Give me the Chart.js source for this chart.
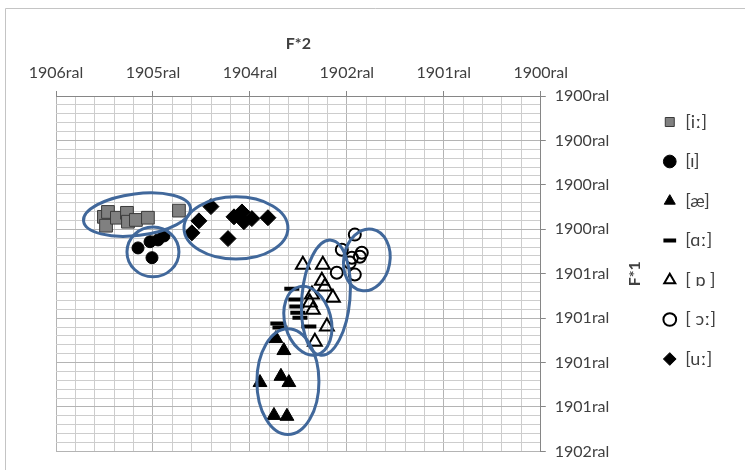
<!DOCTYPE html>
<html>
<head>
<meta charset="utf-8">
<script src="https://cdn.jsdelivr.net/npm/chart.js@4.4.1/dist/chart.umd.min.js"></script>
<style>
  body { margin: 0; background: #fff; }
  #wrap { width: 745px; height: 470px; }
</style>
</head>
<body>
<div id="wrap"><canvas id="formants"></canvas></div>
<script>
// axis ticks (the source sheet had its numbers formatted as dates, hence "19xxral")
const f2Ticks = [2500, 2000, 1500, 1000, 500, 0];
const f2TickLabels = ["1906ral", "1905ral", "1904ral", "1902ral", "1901ral", "1900ral"];
const f1Ticks = [0, 100, 200, 300, 400, 500, 600, 700, 800];
const f1TickLabels = ["1900ral", "1900ral", "1900ral", "1900ral", "1901ral", "1901ral", "1901ral", "1901ral", "1902ral"];

const vowels = ["[iː]", "[ɪ]", "[æ]", "[ɑː]", "[ ɒ ]", "[ ɔː]", "[uː]"];

// F2 / F1 per vowel
const iLongF2 = [2253, 2242, 2232, 2186, 2134, 2129, 2088, 2026, 1866];
const iLongF1 = [272, 292, 261, 274, 263, 283, 279, 274, 258];
const iShortF2 = [2077, 2005, 2015, 1974, 1943];
const iShortF1 = [342, 364, 328, 324, 315];
const aeF2 = [1366, 1325, 1448, 1340, 1299, 1376, 1309];
const aeF1 = [546, 573, 645, 631, 645, 719, 721];
const aLongF2 = [1284, 1263, 1258, 1253, 1242, 1356, 1345, 1196];
const aLongF1 = [434, 458, 474, 488, 499, 512, 521, 519];
const oShortF2 = [1227, 1124, 1129, 1113, 1180, 1072, 1191, 1175, 1103, 1165];
const oShortF1 = [380, 380, 416, 429, 447, 454, 465, 481, 519, 553];
const oLongF2 = [959, 1026, 933, 974, 985, 1052, 959, 923];
const oLongF1 = [312, 346, 362, 364, 375, 398, 402, 353];
const uLongF2 = [1701, 1763, 1799, 1613, 1582, 1541, 1531, 1490, 1407];
const uLongF1 = [249, 281, 308, 321, 272, 261, 283, 276, 274];

// cluster ellipses: centre F2, centre F1, radius F2, radius F1, tilt (deg)
const clusters = [
  [2082, 267, 278, 47, -7],
  [2000, 351, 134, 56, 0],
  [1572, 297, 268, 70, 0],
  [897, 369, 119, 70, 10],
  [1108, 454, 124, 130, 5],
  [1201, 506, 119, 79, -15],
  [1304, 643, 160, 119, 0],
];

function pts(xs, ys) {
  return xs.map((x, i) => ({ x: x, y: ys[i] }));
}

const textColor = "#404040";
const font = "Lato, 'Open Sans', sans-serif";

const data = {
  datasets: [
    { label: vowels[0], data: pts(iLongF2, iLongF1), pointStyle: "rect", pointRadius: 9,
      backgroundColor: "#808080", borderColor: "#3a3a3a", borderWidth: 1 },
    { label: vowels[1], data: pts(iShortF2, iShortF1), pointStyle: "circle", pointRadius: 6,
      backgroundColor: "#000", borderColor: "#000", borderWidth: 1 },
    { label: vowels[2], data: pts(aeF2, aeF1), pointStyle: "triangle", pointRadius: 8,
      backgroundColor: "#000", borderColor: "#000", borderWidth: 1 },
    { label: vowels[3], data: pts(aLongF2, aLongF1), pointStyle: "line", pointRadius: 7.5,
      backgroundColor: "#000", borderColor: "#000", borderWidth: 4 },
    { label: vowels[4], data: pts(oShortF2, oShortF1), pointStyle: "triangle", pointRadius: 8,
      backgroundColor: "rgba(0,0,0,0)", borderColor: "#000", borderWidth: 2 },
    { label: vowels[5], data: pts(oLongF2, oLongF1), pointStyle: "circle", pointRadius: 6,
      backgroundColor: "rgba(0,0,0,0)", borderColor: "#000", borderWidth: 2 },
    { label: vowels[6], data: pts(uLongF2, uLongF1), pointStyle: "rectRot", pointRadius: 8,
      backgroundColor: "#000", borderColor: "#000", borderWidth: 1 },
  ],
};

// frame, axis titles and the hand drawn ellipses
const extras = {
  id: "extras",
  beforeDraw(chart) {
    const ctx = chart.ctx;
    ctx.save();
    ctx.strokeStyle = "#c4c4c4";
    ctx.lineWidth = 1;
    ctx.beginPath();
    ctx.moveTo(5.5, 470);
    ctx.lineTo(5.5, 8.5);
    ctx.lineTo(745, 8.5);
    ctx.stroke();
    ctx.restore();
  },
  afterDatasetsDraw(chart) {
    const ctx = chart.ctx;
    const xs = chart.scales.x, ys = chart.scales.y;
    ctx.save();
    ctx.strokeStyle = "#41689b";
    ctx.lineWidth = 3;
    clusters.forEach(([cx, cy, rx, ry, rot]) => {
      const px = xs.getPixelForValue(cx), py = ys.getPixelForValue(cy);
      const prx = Math.abs(xs.getPixelForValue(cx + rx) - px);
      const pry = Math.abs(ys.getPixelForValue(cy + ry) - py);
      ctx.beginPath();
      ctx.ellipse(px, py, prx, pry, rot * Math.PI / 180, 0, Math.PI * 2);
      ctx.stroke();
    });
    ctx.restore();
  },
  afterDraw(chart) {
    const ctx = chart.ctx;
    const a = chart.chartArea;
    ctx.save();
    ctx.fillStyle = textColor;
    ctx.font = "bold 16px " + font;
    ctx.textAlign = "center";
    ctx.textBaseline = "middle";
    ctx.fillText("F*2", (a.left + a.right) / 2, 44);
    ctx.translate(635, (a.top + a.bottom) / 2);
    ctx.rotate(-Math.PI / 2);
    ctx.fillText("F*1", 0, 0);
    ctx.restore();
  },
};

const isMajor = (v, step) => Math.abs(v % step) < 1e-6;

const config = {
  type: "scatter",
  data: data,
  plugins: [extras],
  options: {
    responsive: true,
    maintainAspectRatio: false,
    animation: false,
    events: [],
    layout: { padding: { left: 56, right: 19, top: 29, bottom: 18 } },
    plugins: {
      tooltip: { enabled: false },
      legend: {
        position: "right",
        align: "center",
        labels: {
          usePointStyle: true,
          boxWidth: 13,
          boxHeight: 9,
          padding: 21.5,
          color: textColor,
          font: { family: font, size: 18 },
        },
      },
    },
    scales: {
      x: {
        type: "linear",
        position: "top",
        reverse: true,
        min: 0,
        max: 2500,
        afterFit: (s) => { s.height = 67; },
        border: { color: "#868686" },
        grid: {
          color: (c) => isMajor(c.tick.value, 500) ? "#b4b4b4" : "#cdcdcd",
          tickColor: (c) => isMajor(c.tick.value, 500) ? "#868686" : "rgba(0,0,0,0)",
          tickLength: 5,
        },
        ticks: {
          stepSize: 100,
          maxTicksLimit: 100,
          autoSkip: false,
          maxRotation: 0,
          padding: 9,
          color: textColor,
          font: { family: font, size: 16 },
          callback: (v) => {
            const i = f2Ticks.indexOf(v);
            return i >= 0 ? f2TickLabels[i] : "";
          },
        },
      },
      y: {
        type: "linear",
        position: "right",
        reverse: true,
        min: 0,
        max: 800,
        afterFit: (s) => { s.width = 101; },
        border: { color: "#868686" },
        grid: {
          color: (c) => isMajor(c.tick.value, 100) ? "#b4b4b4" : "#cdcdcd",
          tickColor: (c) => isMajor(c.tick.value, 100) ? "#868686" : "rgba(0,0,0,0)",
          tickLength: 5,
        },
        ticks: {
          stepSize: 20,
          maxTicksLimit: 100,
          autoSkip: false,
          padding: 9,
          color: textColor,
          font: { family: font, size: 16 },
          callback: (v) => {
            const i = f1Ticks.indexOf(v);
            return i >= 0 ? f1TickLabels[i] : "";
          },
        },
      },
    },
  },
};

new Chart(document.getElementById("formants"), config);
</script>
</body>
</html>
